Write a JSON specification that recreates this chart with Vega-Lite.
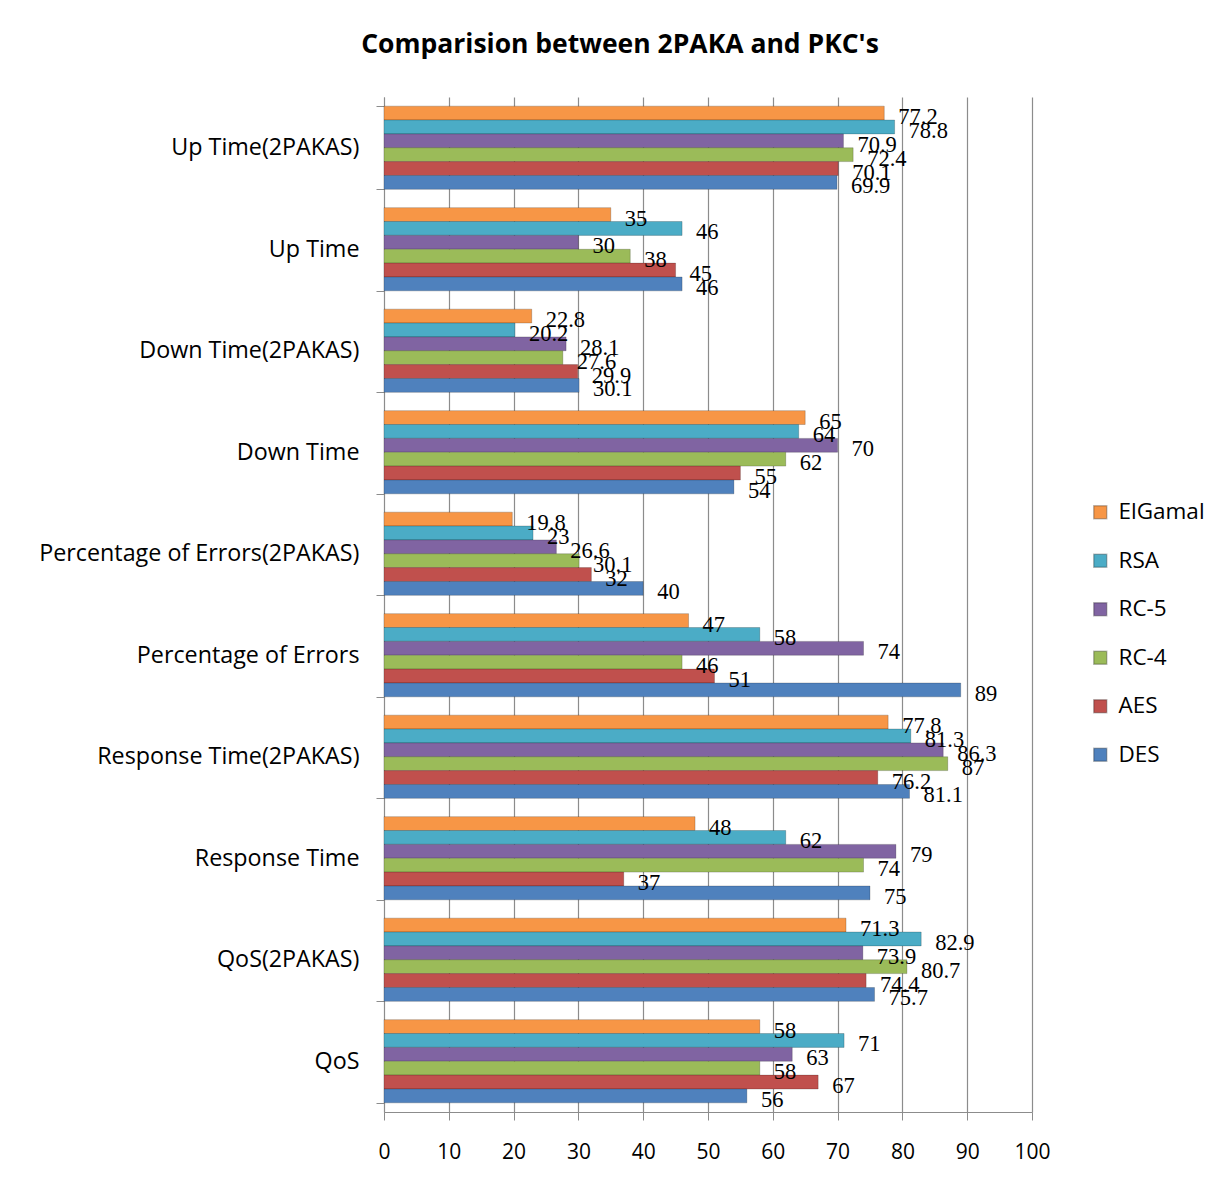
{
  "$schema": "https://vega.github.io/schema/vega-lite/v6.json",
  "width": 648,
  "height": 1015,
  "autosize": {"type": "none"},
  "padding": {"left": 384, "top": 97, "right": 199, "bottom": 79},
  "background": "white",
  "title": {
    "text": "Comparision between 2PAKA and PKC's",
    "font": "Open Sans",
    "fontSize": 26.5,
    "fontWeight": "bold",
    "color": "#000000",
    "anchor": "middle",
    "dx": -88,
    "offset": 27
  },
  "config": {
    "view": {"stroke": null},
    "axis": {"labelFont": "Open Sans", "labelColor": "#000000"}
  },
  "data": {
    "values": [
      {"category": "Up Time(2PAKAS)", "series": "ElGamal", "value": 77.2},
      {"category": "Up Time(2PAKAS)", "series": "RSA", "value": 78.8},
      {"category": "Up Time(2PAKAS)", "series": "RC-5", "value": 70.9},
      {"category": "Up Time(2PAKAS)", "series": "RC-4", "value": 72.4},
      {"category": "Up Time(2PAKAS)", "series": "AES", "value": 70.1},
      {"category": "Up Time(2PAKAS)", "series": "DES", "value": 69.9},
      {"category": "Up Time", "series": "ElGamal", "value": 35},
      {"category": "Up Time", "series": "RSA", "value": 46},
      {"category": "Up Time", "series": "RC-5", "value": 30},
      {"category": "Up Time", "series": "RC-4", "value": 38},
      {"category": "Up Time", "series": "AES", "value": 45},
      {"category": "Up Time", "series": "DES", "value": 46},
      {"category": "Down Time(2PAKAS)", "series": "ElGamal", "value": 22.8},
      {"category": "Down Time(2PAKAS)", "series": "RSA", "value": 20.2},
      {"category": "Down Time(2PAKAS)", "series": "RC-5", "value": 28.1},
      {"category": "Down Time(2PAKAS)", "series": "RC-4", "value": 27.6},
      {"category": "Down Time(2PAKAS)", "series": "AES", "value": 29.9},
      {"category": "Down Time(2PAKAS)", "series": "DES", "value": 30.1},
      {"category": "Down Time", "series": "ElGamal", "value": 65},
      {"category": "Down Time", "series": "RSA", "value": 64},
      {"category": "Down Time", "series": "RC-5", "value": 70},
      {"category": "Down Time", "series": "RC-4", "value": 62},
      {"category": "Down Time", "series": "AES", "value": 55},
      {"category": "Down Time", "series": "DES", "value": 54},
      {"category": "Percentage of Errors(2PAKAS)", "series": "ElGamal", "value": 19.8},
      {"category": "Percentage of Errors(2PAKAS)", "series": "RSA", "value": 23},
      {"category": "Percentage of Errors(2PAKAS)", "series": "RC-5", "value": 26.6},
      {"category": "Percentage of Errors(2PAKAS)", "series": "RC-4", "value": 30.1},
      {"category": "Percentage of Errors(2PAKAS)", "series": "AES", "value": 32},
      {"category": "Percentage of Errors(2PAKAS)", "series": "DES", "value": 40},
      {"category": "Percentage of Errors", "series": "ElGamal", "value": 47},
      {"category": "Percentage of Errors", "series": "RSA", "value": 58},
      {"category": "Percentage of Errors", "series": "RC-5", "value": 74},
      {"category": "Percentage of Errors", "series": "RC-4", "value": 46},
      {"category": "Percentage of Errors", "series": "AES", "value": 51},
      {"category": "Percentage of Errors", "series": "DES", "value": 89},
      {"category": "Response Time(2PAKAS)", "series": "ElGamal", "value": 77.8},
      {"category": "Response Time(2PAKAS)", "series": "RSA", "value": 81.3},
      {"category": "Response Time(2PAKAS)", "series": "RC-5", "value": 86.3},
      {"category": "Response Time(2PAKAS)", "series": "RC-4", "value": 87},
      {"category": "Response Time(2PAKAS)", "series": "AES", "value": 76.2},
      {"category": "Response Time(2PAKAS)", "series": "DES", "value": 81.1},
      {"category": "Response Time", "series": "ElGamal", "value": 48},
      {"category": "Response Time", "series": "RSA", "value": 62},
      {"category": "Response Time", "series": "RC-5", "value": 79},
      {"category": "Response Time", "series": "RC-4", "value": 74},
      {"category": "Response Time", "series": "AES", "value": 37},
      {"category": "Response Time", "series": "DES", "value": 75},
      {"category": "QoS(2PAKAS)", "series": "ElGamal", "value": 71.3},
      {"category": "QoS(2PAKAS)", "series": "RSA", "value": 82.9},
      {"category": "QoS(2PAKAS)", "series": "RC-5", "value": 73.9},
      {"category": "QoS(2PAKAS)", "series": "RC-4", "value": 80.7},
      {"category": "QoS(2PAKAS)", "series": "AES", "value": 74.4},
      {"category": "QoS(2PAKAS)", "series": "DES", "value": 75.7},
      {"category": "QoS", "series": "ElGamal", "value": 58},
      {"category": "QoS", "series": "RSA", "value": 71},
      {"category": "QoS", "series": "RC-5", "value": 63},
      {"category": "QoS", "series": "RC-4", "value": 58},
      {"category": "QoS", "series": "AES", "value": 67},
      {"category": "QoS", "series": "DES", "value": 56}
    ]
  },
  "encoding": {
    "y": {
      "field": "category",
      "type": "nominal",
      "sort": null,
      "scale": {"paddingInner": 0.18, "paddingOuter": 0.09},
      "axis": {
        "title": null,
        "tickBand": "extent",
        "labelFontSize": 23.3,
        "labelPadding": 17,
        "tickSize": 8,
        "tickColor": "#8c8c8c",
        "domainColor": "#8c8c8c",
        "labelLimit": 400
      }
    },
    "yOffset": {
      "field": "series",
      "type": "nominal",
      "sort": ["ElGamal", "RSA", "RC-5", "RC-4", "AES", "DES"],
      "scale": {"paddingInner": 0, "paddingOuter": 0}
    },
    "x": {
      "field": "value",
      "type": "quantitative",
      "scale": {"domain": [0, 100], "nice": false},
      "axis": {
        "title": null,
        "values": [0, 10, 20, 30, 40, 50, 60, 70, 80, 90, 100],
        "labelFontSize": 21,
        "labelPadding": 21,
        "labelFlush": false,
        "tickSize": 8,
        "tickColor": "#8c8c8c",
        "domainColor": "#8c8c8c",
        "grid": true,
        "gridColor": "#8c8c8c",
        "gridWidth": 1.2
      }
    }
  },
  "layer": [
    {
      "mark": {"type": "bar", "stroke": "#00000040", "strokeWidth": 0.8},
      "encoding": {
        "color": {
          "field": "series",
          "type": "nominal",
          "scale": {
            "domain": ["ElGamal", "RSA", "RC-5", "RC-4", "AES", "DES"],
            "range": ["#F79646", "#4BACC6", "#8064A2", "#9BBB59", "#C0504D", "#4F81BD"]
          },
          "legend": {
            "title": null,
            "orient": "none",
            "legendX": 705,
            "legendY": 404,
            "symbolType": "square",
            "symbolSize": 169,
            "labelFont": "Open Sans",
            "labelFontSize": 22.5,
            "labelColor": "#000000",
            "rowPadding": 25.5,
            "labelOffset": 7
          }
        }
      }
    },
    {
      "mark": {
        "type": "text",
        "align": "left",
        "baseline": "middle",
        "dx": 14,
        "dy": 4,
        "font": "Liberation Serif",
        "fontSize": 22.5,
        "color": "#000000"
      },
      "encoding": {
        "text": {"field": "value", "type": "quantitative"}
      }
    }
  ]
}
